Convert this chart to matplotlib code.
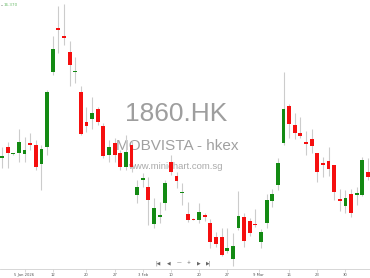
import matplotlib
matplotlib.use("Agg")
import matplotlib.pyplot as plt
import numpy as np

# ---- data (1860.HK daily OHLC) ----
opens = [13.29, 13.51, 13.37, 13.39, 13.37, 13.59, 13.55, 13.17, 13.51, 15.01,
         15.89, 15.73, 15.41, 15.01, 14.61, 14.01, 14.07, 14.27, 13.93, 13.35,
         13.59, 13.39, 13.11, 13.55, 12.55, 12.85, 12.71, 11.97, 12.11, 12.39,
         13.21, 12.93, 12.60, 12.17, 12.07, 12.05, 12.15, 11.99, 11.71, 11.71,
         11.43, 11.27, 11.89, 12.11, 12.03, 11.98, 11.61, 11.99, 12.43, 12.75,
         13.59, 14.33, 13.95, 13.79, 13.61, 13.67, 13.39, 13.19, 13.23, 13.15,
         12.47, 12.33, 12.57, 12.55, 12.55, 13.01]
highs = [13.51, 13.61, 13.39, 13.87, 13.71, 13.79, 13.65, 13.55, 14.65, 15.73,
         16.33, 16.37, 15.63, 15.31, 14.73, 14.31, 14.51, 14.31, 13.99, 13.65,
         13.69, 13.45, 13.75, 13.65, 12.85, 12.99, 12.91, 12.49, 12.41, 12.85,
         13.35, 13.01, 12.79, 12.41, 12.09, 12.39, 12.19, 12.07, 11.81, 11.89,
         11.89, 11.79, 12.63, 12.19, 12.09, 12.27, 11.87, 12.57, 12.67, 13.29,
         15.01, 14.37, 14.19, 14.11, 13.83, 13.87, 13.40, 13.31, 13.51, 13.16,
         12.67, 12.65, 12.67, 12.71, 13.31, 13.29]
lows = [13.09, 13.09, 13.35, 13.21, 13.21, 13.45, 13.05, 12.65, 13.35, 14.95,
        15.39, 15.55, 14.73, 14.79, 13.75, 13.81, 13.87, 13.95, 13.29, 13.21,
        13.21, 13.05, 13.05, 13.01, 12.39, 12.71, 11.95, 11.89, 11.99, 12.25,
        12.95, 12.69, 12.35, 12.01, 12.05, 11.99, 12.03, 11.49, 11.51, 11.33,
        11.39, 11.13, 11.85, 11.51, 11.73, 11.91, 11.49, 11.89, 12.31, 12.65,
        13.55, 13.69, 13.67, 13.69, 13.35, 13.39, 12.81, 12.91, 12.93, 12.45,
        12.23, 12.19, 12.11, 12.35, 12.53, 12.85]
closes = [13.33, 13.39, 13.38, 13.61, 13.45, 13.55, 13.11, 13.47, 14.61, 15.47,
          15.85, 15.69, 15.15, 15.02, 13.77, 13.93, 14.19, 14.01, 13.33, 13.51,
          13.35, 13.11, 13.41, 13.11, 12.71, 12.89, 12.45, 12.29, 12.15, 12.79,
          13.01, 12.83, 12.62, 12.05, 12.06, 12.21, 12.11, 11.61, 11.57, 11.35,
          11.49, 11.53, 12.13, 11.63, 11.79, 11.96, 11.81, 12.45, 12.57, 13.19,
          14.27, 13.97, 13.79, 13.73, 13.57, 13.53, 13.01, 13.15, 13.07, 12.61,
          12.43, 12.49, 12.19, 12.59, 13.25, 12.91]
tick_idx = [4, 9, 15, 20, 25, 30, 35, 40, 45.6, 51, 56, 61]
tick_labels = ["5 Jan 2026", "12", "20", "27", "3 Feb", "10", "20", "27",
               "9 Mar", "16", "23", "30"]
max_label = "16.370"
symbol = "1860.HK"
name = "MOBVISTA - hkex"
site = "www.minichart.com.sg"

# ---- figure ----
W, H, DPI = 370, 278, 100
fig = plt.figure(figsize=(W / DPI, H / DPI), dpi=DPI)
ax = fig.add_axes([0, 9 / H, 1, 269 / H])

x = np.arange(len(opens))
o = np.array(opens); c = np.array(closes)
hi = np.array(highs); lo = np.array(lows)
up = c >= o
green = "#138a13"
red = "#f50f0f"

ax.vlines(x, lo, hi, color="#cccccc", linewidth=0.8, zorder=2)
bottoms = np.minimum(o, c)
heights = np.maximum(np.abs(c - o), 0.02)
ax.bar(x, heights, bottom=bottoms, width=0.68,
       color=np.where(up, green, red), linewidth=0, zorder=3)

ax.set_xlim(-0.36, 65.36)
ax.set_ylim(11.07, 16.45)

for s in ["left", "right", "top"]:
    ax.spines[s].set_visible(False)
ax.spines["bottom"].set_color("#d0d0d0")
ax.spines["bottom"].set_linewidth(0.6)
ax.set_yticks([])
ax.set_xticks(tick_idx)
ax.set_xticklabels(tick_labels, fontsize=2.7, color="#555555")
ax.tick_params(axis="x", length=2, width=0.4, color="#c0c0c0", pad=1.2)

# watermark
ax.text(176 / W, 1 - 113.5 / 269, symbol, transform=ax.transAxes,
        ha="center", va="center", fontsize=19, color="#9e9e9e",
        family="Liberation Sans", zorder=1)
ax.text(177 / W, 1 - 146.5 / 269, name, transform=ax.transAxes,
        ha="center", va="center", fontsize=11, color="#a0a0a0",
        family="Liberation Sans", zorder=1)
ax.text(175.5 / W, 1 - 166.5 / 269, site, transform=ax.transAxes,
        ha="center", va="center", fontsize=6.8, color="#aaaaaa",
        family="Liberation Sans", zorder=1)

# max label
ax.text(4 / W, 1 - 5 / 269, max_label, transform=ax.transAxes,
        ha="left", va="center", fontsize=3, color="#6cbc6c")
ax.plot([0.5 / W, 2 / W], [1 - 5 / 269] * 2, transform=ax.transAxes,
        color="#999999", linewidth=0.5)

# navigation buttons
for bx, sym in zip([158, 169, 179, 189, 199, 209],
                   ["|◀", "◀", "—", "+", "▶", "▶|"]):
    ax.text(bx / W, 1 - 263 / 269, sym, transform=ax.transAxes,
            ha="center", va="center", fontsize=3.4, color="#666666")

fig.savefig("out.png", dpi=DPI)
